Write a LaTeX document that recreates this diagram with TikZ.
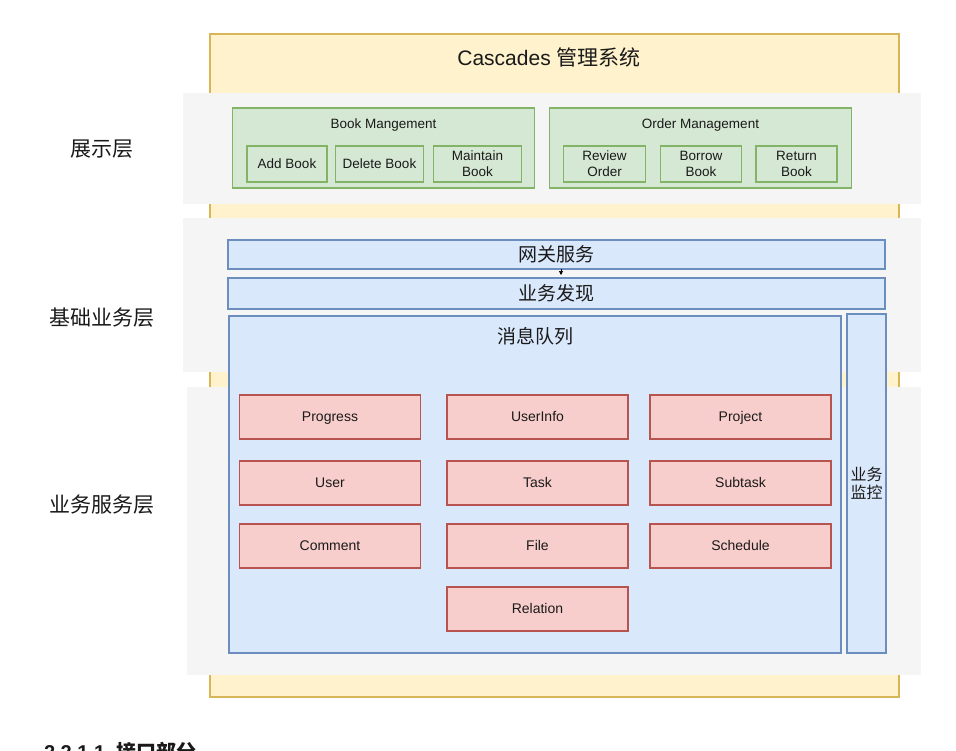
\documentclass[tikz,border=0pt]{standalone}
\usepackage{fontspec}
\setmainfont{Liberation Sans}
\newfontfamily\cjk{Noto Sans CJK SC}
\usetikzlibrary{arrows.meta}
\definecolor{yfill}{HTML}{FFF2CC}
\definecolor{ydraw}{HTML}{D6B656}
\definecolor{gband}{HTML}{F5F5F5}
\definecolor{gfill}{HTML}{D5E8D4}
\definecolor{gdraw}{HTML}{82B366}
\definecolor{bfill}{HTML}{DAE8FC}
\definecolor{bdraw}{HTML}{6C8EBF}
\definecolor{pfill}{HTML}{F8CECC}
\definecolor{pdraw}{HTML}{B85450}
\definecolor{txt}{HTML}{1A1A1A}
\tikzset{
  base/.style={inner sep=0pt, outer sep=0pt, align=center, text=txt},
  oneline/.style={text height=9.8pt, text depth=0pt},
  ybox/.style={base, fill=yfill, draw=ydraw, line width=1.4pt},
  band/.style={base, fill=gband, draw=none},
  gbox/.style={base, fill=gfill, draw=gdraw, line width=1.4pt},
  gsmall/.style={gbox, minimum height=36pt, font=\fontsize{13.5}{16}\selectfont},
  bbox/.style={base, fill=bfill, draw=bdraw, line width=1.4pt},
  pbox/.style={base, oneline, fill=pfill, draw=pdraw, line width=1.4pt, minimum width=181pt, minimum height=44pt, font=\fontsize{14}{16}\selectfont},
  layer/.style={base, font=\cjk\fontsize{21}{24}\selectfont},
}
\begin{document}
\begin{tikzpicture}[x=1pt, y={(0pt,-1pt)}]
\useasboundingbox (0,0) rectangle (956,750);
\clip (0,0) rectangle (956,750);
\fill[white] (0,0) rectangle (956,750);
% outer yellow
\node[ybox, minimum width=689pt, minimum height=663pt] (outer) at (554.5,365.5) {};
\node[base, font=\fontsize{21}{24}\selectfont] (title) at (549,57) {Cascades {\cjk 管理系统}};
% bands
\node[band, minimum width=738pt, minimum height=111pt] (band1) at (552,148.5) {};
\node[band, minimum width=738pt, minimum height=154pt] (band2) at (552,295) {};
\node[band, minimum width=734pt, minimum height=288pt] (band3) at (554,531) {};
% layer labels
\node[layer] (l1) at (102,149) {展示层};
\node[layer] (l2) at (102,318) {基础业务层};
\node[layer] (l3) at (102,505) {业务服务层};
% presentation layer
\node[gbox, minimum width=302pt, minimum height=80pt] (book) at (383.5,148) {};
\node[base, oneline, font=\fontsize{13.5}{14}\selectfont] (bookt) at (383.5,124) {Book Mangement};
\node[gsmall, oneline, minimum width=80pt] (add) at (287,164) {Add Book};
\node[gsmall, oneline, minimum width=88pt] (del) at (379.5,164) {Delete Book};
\node[gsmall, minimum width=88pt] (maint) at (477.5,164) {Maintain\\Book};
\node[gbox, minimum width=302pt, minimum height=80pt] (order) at (700.5,148) {};
\node[base, oneline, font=\fontsize{13.5}{14}\selectfont] (ordert) at (700.5,124) {Order Management};
\node[gsmall, minimum width=82pt] (rev) at (604.5,164) {Review\\Order};
\node[gsmall, minimum width=81pt] (bor) at (701,164) {Borrow\\Book};
\node[gsmall, minimum width=81pt] (ret) at (796.5,164) {Return\\Book};
% base services
\node[bbox, minimum width=657pt, minimum height=29pt, font=\cjk\fontsize{19}{22}\selectfont] (gw) at (556.5,254.5) {网关服务};
\node[bbox, minimum width=657pt, minimum height=31pt, font=\cjk\fontsize{19}{22}\selectfont] (disc) at (556.5,293.5) {业务发现};
\draw[line width=0.6pt, -{Triangle[width=4pt,length=4pt]}] ([xshift=4.5pt]gw.south) -- ([xshift=4.5pt,yshift=3pt]disc.north);
\node[bbox, minimum width=612pt, minimum height=337pt] (mq) at (535,484.5) {};
\node[base, font=\cjk\fontsize{19}{22}\selectfont] (mqt) at (535,336) {消息队列};
\node[bbox, minimum width=39pt, minimum height=339pt, font=\cjk\fontsize{16}{18}\selectfont] (mon) at (866.5,483.5) {业务\\监控};
% services
\node[pbox] (progress) at (330,417) {Progress};
\node[pbox] (userinfo) at (537.5,417) {UserInfo};
\node[pbox] (project) at (740.5,417) {Project};
\node[pbox] (user) at (330,483) {User};
\node[pbox] (task) at (537.5,483) {Task};
\node[pbox] (subtask) at (740.5,483) {Subtask};
\node[pbox] (comment) at (330,546) {Comment};
\node[pbox] (file) at (537.5,546) {File};
\node[pbox] (schedule) at (740.5,546) {Schedule};
\node[pbox] (relation) at (537.5,609) {Relation};
% cut-off heading (cut by the lower edge, as in the reference)
\node[base, anchor=base west, font=\bfseries\fontsize{20}{24}\selectfont] (heading) at (44,759) {2.2.1.1\ \ {\cjk\bfseries 接口部分}};
\end{tikzpicture}
\end{document}
